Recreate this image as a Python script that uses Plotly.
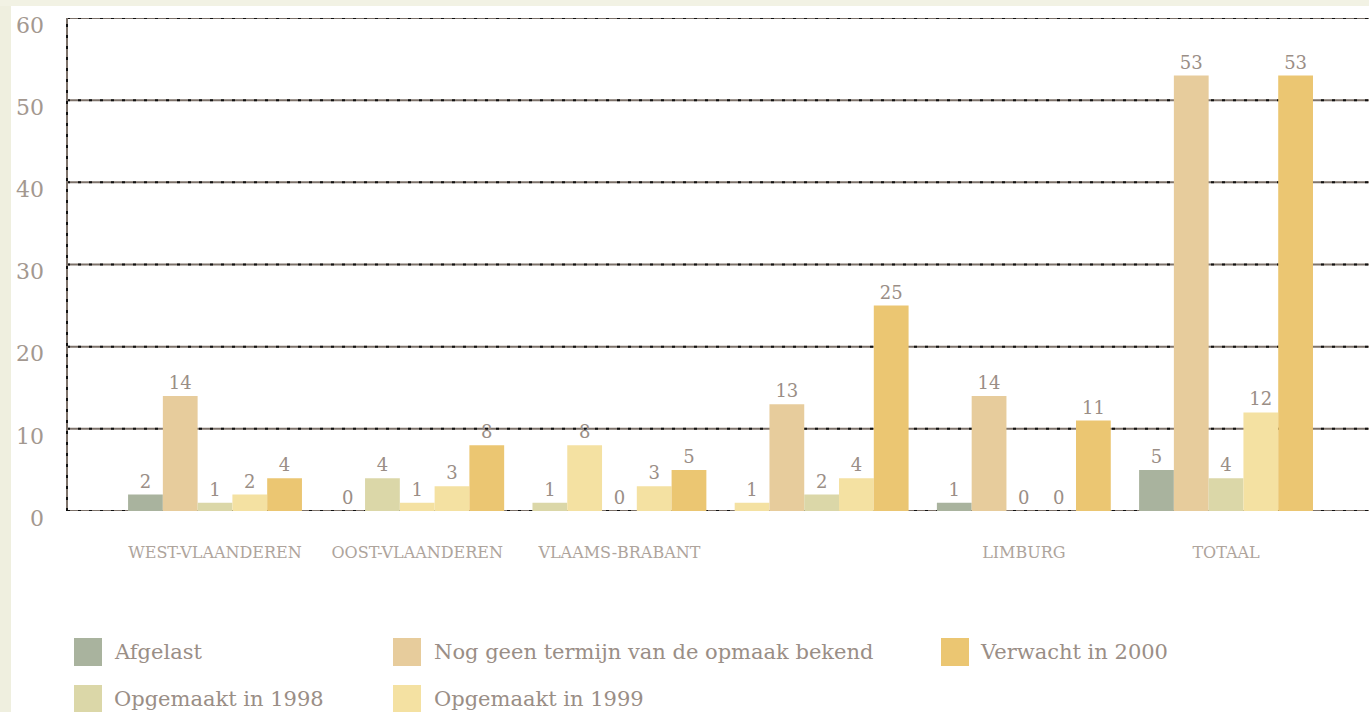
import plotly.graph_objects as go

# ---- data ----
categories = ["WEST-VLAANDEREN", "OOST-VLAANDEREN", "VLAAMS-BRABANT", "ANTWERPEN", "LIMBURG", "TOTAAL"]
category_labels = ["WEST-VLAANDEREN", "OOST-VLAANDEREN", "VLAAMS-BRABANT", "", "LIMBURG", "TOTAAL"]
series_names = ["Afgelast", "Nog geen termijn van de opmaak bekend", "Opgemaakt in 1998",
                "Opgemaakt in 1999", "Verwacht in 2000"]
afgelast = [2, 0, 1, 1, 1, 5]
nog_geen = [14, 4, 8, 13, 14, 53]
opgemaakt_1998 = [1, 1, 0, 2, 0, 4]
opgemaakt_1999 = [2, 3, 3, 4, 0, 12]
verwacht_2000 = [4, 8, 5, 25, 11, 53]
y_ticks = [0, 10, 20, 30, 40, 50, 60]

# ---- styles ----
C_AFG = "#a9b39e"
C_NOG = "#e7cc9c"
C_98 = "#dbd7a8"
C_99 = "#f4e1a2"
C_00 = "#ebc672"
series_colors = [C_AFG, C_NOG, C_98, C_99, C_00]
# per-bar colours as they appear in the original picture
bar_colors = [
    [C_AFG, C_AFG, C_98, C_99, C_AFG, C_AFG],
    [C_NOG, C_98, C_99, C_NOG, C_NOG, C_NOG],
    [C_98, C_99, C_98, C_98, C_98, C_98],
    [C_99, C_99, C_99, C_99, C_99, C_99],
    [C_00, C_00, C_00, C_00, C_00, C_00],
]
TEXT = "#9a8e86"
FONT = "DejaVu Serif"
GRID_GREY = "#7d726a"

W, H = 1369, 712
L, R, T, B = 67, 0, 18, 201
PW, PH = W - L - R, H - T - B


def px2x(px):
    return (px - L) / PW


def py2y(py):
    return (H - B - py) / PH


series_values = [afgelast, nog_geen, opgemaakt_1998, opgemaakt_1999, verwacht_2000]

fig = go.Figure()
for name, vals, cols in zip(series_names, series_values, bar_colors):
    fig.add_trace(go.Bar(
        x=categories, y=vals, name=name,
        marker=dict(color=cols, line=dict(width=0)),
        texttemplate="%{y}", textposition="outside",
        textfont=dict(family=FONT, size=18, color=TEXT),
        cliponaxis=False, showlegend=False,
    ))

shapes = []
# beige frame strips (left and top)
shapes.append(dict(type="rect", xref="paper", yref="paper", x0=px2x(0), x1=px2x(11),
                   y0=py2y(H), y1=py2y(0), fillcolor="#efefdf", line=dict(width=0), layer="below"))
shapes.append(dict(type="rect", xref="paper", yref="paper", x0=px2x(0), x1=px2x(W),
                   y0=py2y(6), y1=py2y(0), fillcolor="#f2f2e4", line=dict(width=0), layer="below"))
# gridlines: grey with black dashes
for v in y_ticks:
    shapes.append(dict(type="line", xref="paper", yref="y", x0=0, x1=1, y0=v, y1=v,
                       line=dict(color=GRID_GREY, width=2), layer="below"))
    shapes.append(dict(type="line", xref="paper", yref="y", x0=0, x1=1, y0=v, y1=v,
                       line=dict(color="#111111", width=2, dash="3px,8px"), layer="below"))
# dashed y axis line
shapes.append(dict(type="line", xref="paper", yref="paper", x0=0, x1=0, y0=0, y1=1,
                   line=dict(color=GRID_GREY, width=2), layer="below"))
shapes.append(dict(type="line", xref="paper", yref="paper", x0=0, x1=0, y0=0, y1=1,
                   line=dict(color="#111111", width=2, dash="3px,8px"), layer="below"))

# custom legend (large swatches)
legend_pos = [(74, 112, 638), (393, 432, 638), (74, 112, 685), (393, 432, 685), (941, 978, 638)]
annotations = []
for name, col, (sx, tx, sy) in zip(series_names, series_colors, legend_pos):
    shapes.append(dict(type="rect", xref="paper", yref="paper", x0=px2x(sx), x1=px2x(sx + 28),
                       y0=py2y(sy + 28), y1=py2y(sy), fillcolor=col, line=dict(width=0)))
    annotations.append(dict(xref="paper", yref="paper", x=px2x(tx), y=py2y(sy + 14),
                            xanchor="left", yanchor="middle", text=name, showarrow=False,
                            font=dict(family=FONT, size=21, color=TEXT)))

fig.update_layout(
    width=W, height=H,
    margin=dict(l=L, r=R, t=T, b=B, autoexpand=False),
    paper_bgcolor="white", plot_bgcolor="white",
    barmode="group", bargap=0.14, bargroupgap=0,
    font=dict(family=FONT, color=TEXT),
    shapes=shapes, annotations=annotations,
    xaxis=dict(range=[-0.732, 5.707], tickvals=categories, ticktext=category_labels,
               showgrid=False, showline=False, zeroline=False, ticks="",
               tickfont=dict(family=FONT, size=16, color="#aea49c"), ticklabelstandoff=30),
    yaxis=dict(range=[0, 60], tickvals=y_ticks, showgrid=False,
               zeroline=False, showline=False, ticks="",
               tickfont=dict(family=FONT, size=22, color="#a39890"),
               ticklabelstandoff=22, ticklabelshift=7),
)

fig.write_html("out.html", config={"displayModeBar": False},
               post_script="document.body.style.margin='0px';document.body.style.overflow='hidden';")
